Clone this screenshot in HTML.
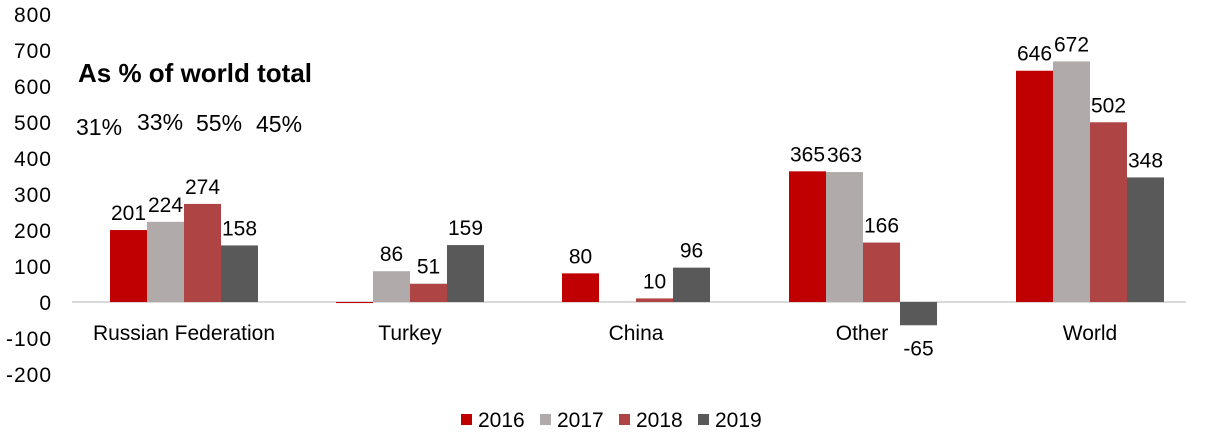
<!DOCTYPE html><html><head><style>body{margin:0;background:#fff}svg{display:block}text{font-family:"Liberation Sans",sans-serif}</style></head><body>
<svg width="1207" height="447" viewBox="0 0 1207 447">
<g font-size="21" fill="#000" text-anchor="end" letter-spacing="1">
<text x="52" y="22">800</text><text x="52" y="58">700</text><text x="52" y="94">600</text><text x="52" y="130">500</text><text x="52" y="166">400</text><text x="52" y="202">300</text><text x="52" y="238">200</text><text x="52" y="274">100</text><text x="52" y="310">0</text><text x="52" y="346">-100</text><text x="52" y="382">-200</text>
</g>
<line x1="72" y1="302" x2="1186" y2="302" stroke="#d9d9d9" stroke-width="2"/>
<text x="78" y="82" font-size="26" font-weight="bold">As % of world total</text>
<g font-size="23"><text x="76" y="135">31%</text><text x="137" y="130">33%</text><text x="196" y="131">55%</text><text x="256" y="132">45%</text></g>
<g id="bars"></g>
<g font-size="21" text-anchor="middle">
<text x="184" y="340">Russian Federation</text><text x="410" y="340">Turkey</text><text x="636" y="340">China</text><text x="862" y="340">Other</text><text x="1090" y="340">World</text>
</g>
<g font-size="21">
<rect x="461" y="414" width="11" height="11" fill="#c00000"/><text x="478" y="427">2016</text>
<rect x="540" y="414" width="11" height="11" fill="#b0aaaa"/><text x="557" y="427">2017</text>
<rect x="619" y="414" width="11" height="11" fill="#ae4443"/><text x="636" y="427">2018</text>
<rect x="698" y="414" width="11" height="11" fill="#595959"/><text x="715" y="427">2019</text>
</g>
</svg>
<script>
var d=[[201,224,274,158],[-3,86,51,159],[80,0,10,96],[365,363,166,-65],[646,672,502,348]];
var lab=[["201","224","274","158"],["","86","51","159"],["80","","10","96"],["365","363","166","-65"],["646","672","502","348"]];
var st=[110,336,562,789,1016],c=["#c00000","#b0aaaa","#ae4443","#595959"],s=0.358,z=302,h="";
for(var g=0;g<5;g++)for(var i=0;i<4;i++){var v=d[g][i],x=st[g]+i*37,y=v>=0?z-v*s:z,hh=Math.abs(v)*s;
if(v!=0)h+='<rect x="'+x+'" y="'+y+'" width="37" height="'+hh+'" fill="'+c[i]+'"/>';
if(lab[g][i]){var ty=v>=0?y-10:z+hh+30;h+='<text x="'+(x+18.5)+'" y="'+ty+'" font-size="21" text-anchor="middle">'+lab[g][i]+'</text>';}}
document.getElementById("bars").innerHTML=h;
</script>
</body></html>
